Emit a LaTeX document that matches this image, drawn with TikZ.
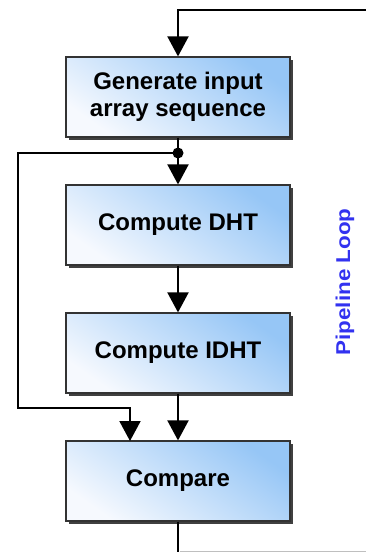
\documentclass[tikz,border=0pt]{standalone}
\usepackage{fontspec}
\setmainfont{Liberation Sans}
\usetikzlibrary{arrows.meta}
\definecolor{boxdark}{RGB}{150,198,246}
\definecolor{boxlight}{RGB}{246,249,254}
\definecolor{loopblue}{RGB}{50,50,240}
\tikzset{
  stepbox/.style={minimum width=224pt, minimum height=80pt, inner sep=0pt,
    draw=black!80, line width=1.2pt, top color=boxdark, bottom color=boxlight, shading angle=-35,
    font=\bfseries\fontsize{24}{27}\selectfont, align=center, text=black},
  shadowbox/.style={minimum width=224pt, minimum height=80pt, inner sep=0pt, fill=black!75, draw=none},
  conn/.style={line width=2pt, black},
  arr/.style={conn, -{Triangle[width=21pt,length=20pt]}},
}
\begin{document}
\begin{tikzpicture}[x=1pt,y=-1pt]
\useasboundingbox (0,0) rectangle (366,552);
% shadows
\foreach \yy in {97,225,353,481} \node[shadowbox] at (180.5,\yy+2.5) {};
\node[stepbox] (gen) at (178,97) {Generate input\\array sequence};
\node[stepbox] (dht) at (178,225) {Compute DHT};
\node[stepbox] (idht) at (178,353) {Compute IDHT};
\node[stepbox] (cmp) at (178,481) {Compare};
\node[rotate=90, text=loopblue, font=\bfseries\fontsize{20}{22}\selectfont, inner sep=0pt] (loop) at (345,282) {\scalebox{1.12}[1]{Pipeline Loop}};
% connectors
\coordinate (topr) at (366,10);
\coordinate (topl) at (178,10);
\draw[arr] (topr) -- (topl) -- (gen.north);
\coordinate (dot) at (178,153);
\draw[conn] (gen.south) -- (dot);
\draw[arr] (dot) -- (dht.north);
\fill (dot) circle (5.5pt);
\coordinate (lt) at (18,153);
\coordinate (lb) at (18,408);
\coordinate (lr) at (130,408);
\draw[arr] (dot) -- (lt) -- (lb) -- (lr) -- (130,441);
\draw[arr] (dht.south) -- (idht.north);
\draw[arr] (idht.south) -- (cmp.north);
\coordinate (bot) at (178,552);
\draw[conn] (cmp.south) -- (bot);
\draw[black!25, line width=0.8pt] (180,551.5) -- (366,551.5);
\end{tikzpicture}
\end{document}
